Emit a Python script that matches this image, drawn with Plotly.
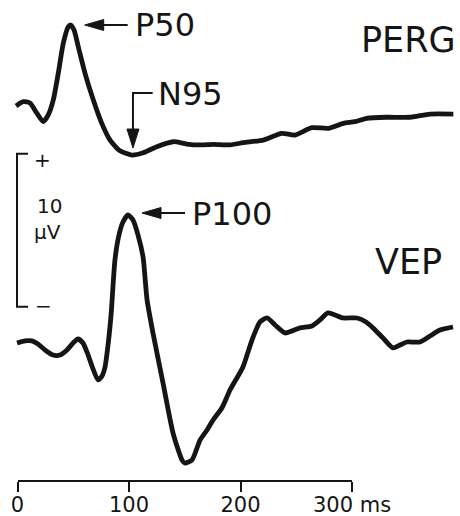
import numpy as np
import plotly.graph_objects as go

# ---------------- data (ms, µV) ----------------
perg_t = [-1.3, 5.2, 11.2, 17.2, 23.1, 27.6, 32.1, 36.6, 41.1, 45.6, 47.7, 50.7, 54.5, 60.5,
          68.0, 75.5, 83.0, 91.9, 102.4, 112.8, 124.9, 139.7, 151.8, 163.7, 175.6, 190.6,
          202.5, 220.5, 237.0, 248.9, 263.9, 278.8, 292.2, 302.7, 313.2, 331.1, 352.0, 370.0, 390.9]
perg_uv = [0.07, 0.35, 0.26, -0.39, -0.96, -0.52, 0.46, 2.22, 4.18, 5.25, 5.36, 5.03, 3.94, 2.22,
           0.46, -1.05, -2.16, -2.86, -3.14, -2.99, -2.59, -2.27, -2.42, -2.48, -2.44, -2.48,
           -2.33, -2.16, -1.72, -1.83, -1.35, -1.39, -1.07, -0.96, -0.74, -0.67, -0.67, -0.46, -0.46]

vep_t = [-0.4, 6.7, 13.0, 18.4, 24.7, 31.8, 38.1, 44.4, 49.8, 54.3, 58.7, 62.3, 66.8, 72.2,
         75.8, 78.5, 81.2, 83.9, 87.4, 91.0, 94.6, 99.1, 103.6, 108.1, 112.6, 116.2, 121.5,
         130.5, 139.5, 147.5, 150.2, 156.5, 163.7, 170.0, 175.4, 183.4, 190.6, 202.2, 210.3,
         217.5, 223.8, 231.0, 239.9, 253.4, 264.1, 271.3, 278.5, 291.9, 304.5, 312.6, 318.9,
         327.8, 336.8, 343.0, 349.3, 361.0, 370.0, 378.9, 390.6]
vep_uv = [-0.07, 0.07, 0.07, -0.13, -0.52, -0.85, -0.85, -0.52, -0.07, 0.20, -0.07, -0.65, -1.57, -2.48,
          -2.22, -1.63, -0.20, 1.76, 5.36, 6.99, 7.84, 8.30, 7.97, 6.99, 5.56, 2.75, 0.59,
          -2.68, -5.95, -7.71, -7.91, -7.71, -6.41, -5.75, -5.10, -4.30, -3.14, -1.63, 0.13,
          1.31, 1.57, 1.11, 0.59, 0.92, 1.05, 1.44, 1.90, 1.57, 1.57, 1.31, 0.92,
          0.26, -0.39, -0.20, 0.00, 0.00, 0.39, 0.78, 0.98]

tick_vals = [0, 100, 200, 300]
tick_text = ["0", "100", "200", "300 ms"]
scale_uv = 10
scale_bottom_uv = 2.3

# ---------------- layout geometry ----------------
W, H = 460, 516
MB = 36
PH = H - MB
PX_PER_MS = 1.115
X0_PX = 17.5
PX_PER_UV = 15.3
VEP_BASE_PX = 342
PERG_BASE_PX = 107

x_range = [-X0_PX / PX_PER_MS, (W - X0_PX) / PX_PER_MS]
y_range = [(VEP_BASE_PX - PH) / PX_PER_UV, VEP_BASE_PX / PX_PER_UV]
y2_range = [(PERG_BASE_PX - PH) / PX_PER_UV, PERG_BASE_PX / PX_PER_UV]

INK = "#151515"
FONT = "DejaVu Sans"


def paper(px, py):
    return px / W, (PH - py) / PH


fig = go.Figure()
fig.add_trace(go.Scatter(x=perg_t, y=perg_uv, yaxis="y2", mode="lines",
                         line=dict(color=INK, width=4.8, shape="spline", smoothing=0.6),
                         hoverinfo="skip", showlegend=False))
fig.add_trace(go.Scatter(x=vep_t, y=vep_uv, mode="lines",
                         line=dict(color=INK, width=4.8, shape="spline", smoothing=0.6),
                         hoverinfo="skip", showlegend=False))
# carrier for the time axis
fig.add_trace(go.Scatter(x=[], y=[], xaxis="x2", yaxis="y", showlegend=False))

# peaks
i50 = int(np.argmax(perg_uv))
p50 = (perg_t[i50], perg_uv[i50])
i95 = i50 + int(np.argmin(perg_uv[i50:]))
n95 = (perg_t[i95], perg_uv[i95])
i100 = int(np.argmax(vep_uv))
p100 = (vep_t[i100], vep_uv[i100])

shapes = []
annotations = []


def head_shape(anchor, yref, path):
    return dict(type="path", xref="x", yref=yref, xsizemode="pixel", ysizemode="pixel",
                xanchor=anchor[0], yanchor=anchor[1], path=path,
                fillcolor=INK, line=dict(color=INK, width=1))


def line_shape(anchor, yref, path):
    return dict(type="path", xref="x", yref=yref, xsizemode="pixel", ysizemode="pixel",
                xanchor=anchor[0], yanchor=anchor[1], path=path,
                line=dict(color=INK, width=2))


# P50 (horizontal arrow pointing left)
shapes.append(head_shape(p50, "y2", "M 14,0 L 33,5.5 L 33,-5.5 Z"))
shapes.append(line_shape(p50, "y2", "M 32,0 L 57,0"))
annotations.append(dict(x=p50[0], y=p50[1], xref="x", yref="y2", text="P50",
                        xanchor="left", yanchor="middle", xshift=62, yshift=0,
                        showarrow=False, font=dict(family=FONT, size=32, color=INK)))
# N95 (elbow arrow pointing down)
shapes.append(head_shape(n95, "y2", "M 1.3,7 L -4.7,26 L 7.3,26 Z"))
shapes.append(line_shape(n95, "y2", "M 1.3,25 L 1.3,62 L 21,62"))
annotations.append(dict(x=n95[0], y=n95[1], xref="x", yref="y2", text="N95",
                        xanchor="left", yanchor="middle", xshift=24, yshift=61.5,
                        showarrow=False, font=dict(family=FONT, size=32, color=INK)))
# P100
shapes.append(head_shape(p100, "y", "M 14,2 L 33,7.5 L 33,-3.5 Z"))
shapes.append(line_shape(p100, "y", "M 32,2 L 57,2"))
annotations.append(dict(x=p100[0], y=p100[1], xref="x", yref="y", text="P100",
                        xanchor="left", yanchor="middle", xshift=62, yshift=1.5,
                        showarrow=False, font=dict(family=FONT, size=32, color=INK)))

# scale bar (10 µV)
shapes.append(dict(type="path", xref="x", yref="y", xsizemode="pixel", xanchor=0,
                   path=f"M 10.5,{scale_bottom_uv} L -0.5,{scale_bottom_uv} "
                        f"L -0.5,{scale_bottom_uv + scale_uv} L 10.5,{scale_bottom_uv + scale_uv}",
                   line=dict(color=INK, width=2)))

for txt, px, py, size in [("+", 42, 160, 20), ("−", 43, 306, 20),
                          ("10", 49.5, 205.5, 20), ("μV", 47, 232, 20)]:
    xp, yp = paper(px, py)
    annotations.append(dict(x=xp, y=yp, xref="paper", yref="paper", text=txt,
                            xanchor="center", yanchor="middle", showarrow=False,
                            font=dict(family=FONT, size=size, color=INK)))

for txt, px_right, py in [("PERG", 458, 40.5), ("VEP", 444, 261.5)]:
    xp, yp = paper(px_right, py)
    annotations.append(dict(x=xp, y=yp, xref="paper", yref="paper", text=txt,
                            xanchor="right", yanchor="middle", showarrow=False,
                            font=dict(family=FONT, size=35, color=INK)))

fig.update_layout(
    width=W, height=H,
    margin=dict(l=0, r=0, t=0, b=MB, pad=0, autoexpand=False),
    paper_bgcolor="white", plot_bgcolor="rgba(0,0,0,0)",
    showlegend=False,
    xaxis=dict(range=x_range, visible=False, domain=[0, 1], fixedrange=True),
    xaxis2=dict(range=[0, 300], domain=[X0_PX / W, (X0_PX + 300 * PX_PER_MS) / W],
                anchor="y", showline=True, linewidth=2, linecolor=INK,
                ticks="outside", ticklen=10, tickwidth=2, tickcolor=INK,
                tickvals=tick_vals, ticktext=tick_text, ticklabelstandoff=-5,
                tickfont=dict(family=FONT, size=21, color=INK),
                showgrid=False, zeroline=False, fixedrange=True),
    yaxis=dict(range=y_range, visible=False, fixedrange=True),
    yaxis2=dict(range=y2_range, visible=False, overlaying="y", fixedrange=True),
    shapes=shapes,
    annotations=annotations,
)

fig.write_html("out.html")
